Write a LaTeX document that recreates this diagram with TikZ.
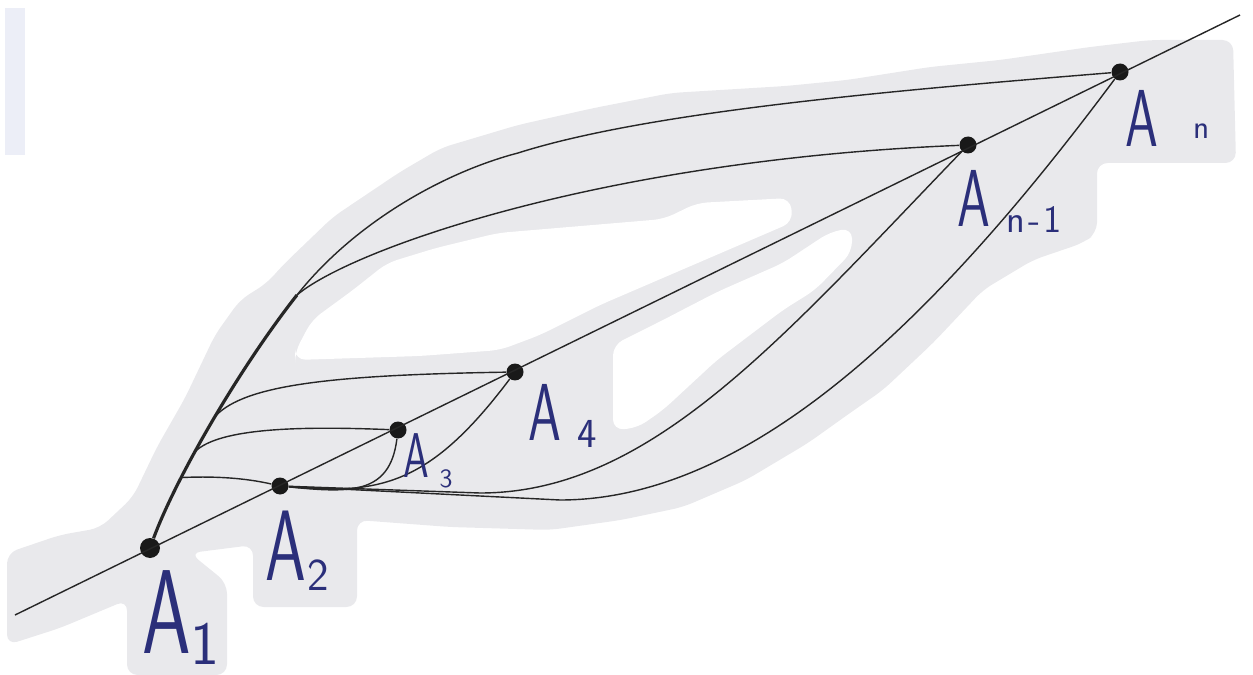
\documentclass[tikz,border=0pt]{standalone}
\usepackage{graphicx}

\definecolor{paper}{HTML}{E9E9EC}
\definecolor{strip}{HTML}{ECEEF7}
\definecolor{ink}{HTML}{2B2F7A}

% hand lettered point name: A-size, sub-size, gap, shift, subscript
\newcommand{\alab}[5]{{\fontsize{#1}{#1}\selectfont\scalebox{0.65}[1]{A}}\hspace{#3}\raisebox{#4}{\fontsize{#2}{#2}\selectfont #5}}

\begin{document}
\begin{tikzpicture}[
x=0.02cm,
y=-0.02cm,
dot/.style={
    circle,
    fill=black!90,
    inner sep=0pt,
    minimum size=0.34cm
},
curve/.style={draw=black!85, line width=0.8pt},
lbl/.style={text=ink, font=\sffamily, inner sep=0pt, anchor=base west}
]
\useasboundingbox (0,0) rectangle (1253,675);

% shaded paper
\fill[strip] (5,8) rectangle (25,155);
\fill[paper, rounded corners=6pt] (7,553) -- (60,535) -- (100,528) -- (133,497)
  -- (157,447) -- (185,398) -- (215,335) -- (240,300) -- (267,283) -- (283,265)
  -- (333,217) -- (400,172) -- (441,148) -- (518,125) -- (594,108) -- (671,93)
  -- (786,86) -- (847,80) -- (930,67) -- (1000,60) -- (1090,47) -- (1150,40)
  -- (1233,40) -- (1236,163) -- (1097,163) -- (1097,233) -- (1083,243)
  -- (1033,260) -- (983,290) -- (933,343) -- (883,390) -- (850,413) -- (808,443)
  -- (746,480) -- (683,507) -- (621,520) -- (550,530) -- (450,527) -- (357,520)
  -- (357,607) -- (253,607) -- (253,545) -- (190,553) -- (227,583) -- (227,675)
  -- (127,675) -- (127,600) -- (60,628) -- (7,645) -- cycle;
\fill[white, rounded corners=6pt] (295,352) -- (312,320) -- (353,290) -- (387,263)
  -- (436,248) -- (498,233) -- (581,226) -- (664,219) -- (697,203) -- (790,198)
  -- (793,222) -- (700,262) -- (600,305) -- (540,335) -- (500,350) -- (420,356)
  -- (295,360) -- cycle;
\fill[white, rounded corners=6pt] (613,345) -- (663,320) -- (717,292) -- (783,263)
  -- (830,232) -- (852,228) -- (852,252) -- (815,290) -- (783,310) -- (750,335)
  -- (717,360) -- (690,385) -- (663,410) -- (637,428) -- (613,430) -- cycle;

% points
\node (a1) [dot, minimum size=0.4cm] at (150,548) {};
\node (a2) [dot] at (280,486) {};
\node (a3) [dot] at (398,430) {};
\node (a4) [dot] at (515,372) {};
\node (am) [dot] at (968,145) {};
\node (an) [dot] at (1120,72) {};

\coordinate (s) at (15,615);
\coordinate (e) at (1240,15);
\coordinate (fork) at (297,295);
\coordinate (bend) at (518,153);
\coordinate (f1) at (480,493);
\coordinate (f2) at (560,500);

\draw[curve] (s)--(e);

% from A1
\path (a1.center) .. controls (175,480) and (238,370) .. (fork)
  coordinate[pos=.3] (b2) coordinate[pos=.4] (b3) coordinate[pos=.53] (b4);
\draw[curve, line width=1.8pt] (a1) .. controls (175,480) and (238,370) .. (fork);
\draw[curve] (fork) .. controls (355,222) and (445,172) .. (bend)
  .. controls (650,111) and (900,90) .. (an);
\draw[curve] (fork) .. controls (350,250) and (600,160) .. (am);
\draw[curve] (b2) .. controls (215,476) and (245,478) .. (a2);
\draw[curve] (b3) .. controls (220,428) and (300,426) .. (a3);
\draw[curve] (b4) .. controls (245,385) and (330,375) .. (a4);

% from A2
\draw[curve] (a2) .. controls (350,493) and (390,495) .. (a3);
\draw[curve] (a2) .. controls (380,495) and (430,485) .. (a4);
\draw[curve] (a2)--(f1) .. controls (650,493) and (780,340) .. (am);
\draw[curve] (a2)--(f2) .. controls (760,500) and (950,300) .. (an);

% names
\node (l1) [lbl] at (142,653) {\alab{68}{35}{0pt}{-6.8pt}{1}};
\node (l2) [lbl] at (265,580) {\alab{57}{26}{1pt}{-5.7pt}{2}};
\node (l3) [lbl] at (403,477) {\alab{36}{15}{6pt}{-5.7pt}{3}};
\node (l4) [lbl] at (528,440) {\alab{46}{23.5}{9pt}{-4pt}{4}};
\node (lm) [lbl] at (957,227) {\alab{46}{22}{9pt}{-3.4pt}{n\kern2pt-\kern2pt1}};
\node (ln) [lbl] at (1125,147) {\alab{46}{19}{20pt}{5pt}{n}};

\end{tikzpicture}
\end{document}
